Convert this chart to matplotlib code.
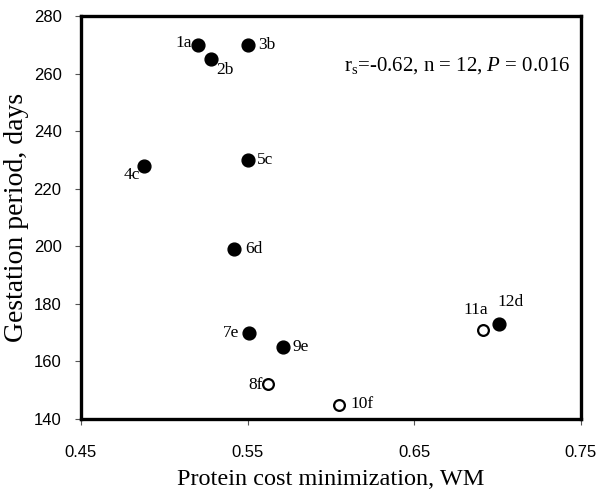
import matplotlib
matplotlib.use('Agg')
import matplotlib.pyplot as plt

plt.rcParams['mathtext.fontset'] = 'custom'
plt.rcParams['mathtext.rm'] = 'Liberation Serif'
plt.rcParams['mathtext.it'] = 'Liberation Serif:italic'

# данные
labels = ['1a', '2b', '3b', '4c', '5c', '6d', '7e', '8f', '9e', '10f', '11a', '12d']
wm = [0.520, 0.528, 0.550, 0.488, 0.550, 0.542, 0.551, 0.562, 0.571, 0.605, 0.691, 0.701]
gestation = [270, 265, 270, 228, 230, 199, 170, 152, 165, 145, 171, 173]
filled = [True, True, True, True, True, True, True, False, True, False, False, True]

# смещения подписей в пикселях и выравнивание
offsets = {
    '1a': (-6, 2, 'right'),
    '2b': (5, -11, 'left'),
    '3b': (11, 0, 'left'),
    '4c': (-4, -9, 'right'),
    '5c': (9, 0, 'left'),
    '6d': (11, 0, 'left'),
    '7e': (-10, 0, 'right'),
    '8f': (-5, -1, 'right'),
    '9e': (10, 0, 'left'),
    '10f': (11, 1, 'left'),
    '11a': (-7, 20, 'center'),
    '12d': (-2, 22, 'left'),
}

fig = plt.figure(figsize=(5.99, 4.92), dpi=100)
ax = fig.add_axes([0.1352, 0.1484, 0.8347, 0.8191])

serif = ['Liberation Serif', 'DejaVu Serif']
sans = ['Liberation Sans', 'DejaVu Sans']

for x, y, f in zip(wm, gestation, filled):
    if f:
        ax.scatter(x, y, s=85, color='black', zorder=3)
    else:
        ax.scatter(x, y, s=60, facecolor='white', edgecolor='black', linewidth=1.6, zorder=3)

for lab, x, y in zip(labels, wm, gestation):
    dx, dy, ha = offsets[lab]
    ax.annotate(lab, (x, y), xytext=(dx, dy), textcoords='offset pixels',
                ha=ha, va='center', fontsize=12.5, family=serif)

ax.text(0.978, 0.878, r'r$_\mathregular{s}$=-0.62, n = 12, $\it{P}$ = 0.016',
        transform=ax.transAxes, ha='right', va='center', fontsize=15, family=serif)

ax.set_xlim(0.45, 0.75)
ax.set_ylim(140, 280)
ax.set_xticks([0.45, 0.55, 0.65, 0.75])
ax.set_xticklabels(['0.45', '0.55', '0.65', '0.75'])
ax.set_yticks(range(140, 281, 20))

for sp in ax.spines.values():
    sp.set_linewidth(2.4)

ax.tick_params(direction='out', length=4, width=0.8, color='#555555', labelsize=12)
ax.tick_params(axis='x', pad=15)
ax.tick_params(axis='y', pad=10)
for t in ax.get_xticklabels() + ax.get_yticklabels():
    t.set_family(sans)

ax.set_xlabel('Protein cost minimization, WM', fontsize=17.5, family=serif, labelpad=6)
ax.set_ylabel('Gestation period, days', fontsize=20, family=serif, labelpad=3)

fig.savefig('out.png', dpi=100)
